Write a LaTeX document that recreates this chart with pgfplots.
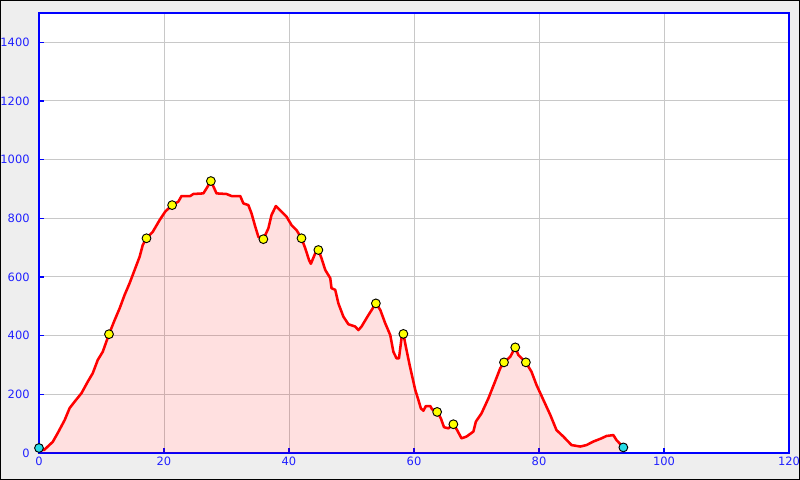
\documentclass[border=0pt]{standalone}
\usepackage{pgfplots}
\pgfplotsset{compat=1.18}
\usepackage{fontspec}
\setmainfont{DejaVu Sans}
\usetikzlibrary{backgrounds}
\definecolor{bgGray}{RGB}{238,238,238}
\definecolor{tickBlue}{RGB}{32,32,255}
\definecolor{gridGray}{RGB}{200,200,200}
\definecolor{mkYellow}{RGB}{255,255,0}
\definecolor{mkCyan}{RGB}{40,220,230}
\pgfplotstableread{
x y
0 17
0.8 10
2.2 38
3.0 68
4.1 112
4.9 153
5.7 175
6.8 204
7.8 243
8.6 272
9.4 317
10.2 345
11.2 405
12.1 453
12.9 493
13.7 539
14.5 579
15.3 624
16.1 669
16.6 709
17.2 732
18.2 754
19.3 794
20.2 823
21.3 845
22.3 857
22.8 876
24.2 876
24.7 883
26.3 885
26.8 902
27.5 927
28.05 902
28.4 885
30.0 883
30.8 876
32.2 876
32.7 851
33.5 845
34.0 817
34.6 772
35.1 737
35.9 729
36.7 766
37.2 811
37.9 842
38.8 823
39.6 806
40.4 777
41.2 760
42.0 732
42.6 698
43.2 658
43.5 645
44.2 681
44.7 692
45.2 664
45.8 624
46.6 596
46.8 562
47.4 556
47.9 510
48.7 465
49.5 439
50.6 431
51.1 419
51.6 431
52.7 470
53.9 510
54.6 488
55.4 442
56.2 402
56.7 345
57.2 323
57.6 323
58.0 391
58.3 406
58.7 362
59.3 300
60.2 215
60.7 181
61.1 152
61.5 144
61.9 160
62.6 160
62.9 149
63.7 140
64.3 118
64.8 88
65.5 84
66.3 98
66.9 78
67.6 50
68.4 56
69.5 73
69.9 107
70.8 135
71.9 186
72.96 243
73.8 289
74.4 309
75.4 328
76.2 360
76.7 334
77.9 309
78.8 277
79.6 232
80.7 181
81.8 130
82.8 78
83.9 56
85.2 27
86.6 22
87.6 27
88.7 39
90.0 50
90.8 58
91.9 61
92.4 44
93.5 19
}\profile
\begin{document}
\begin{tikzpicture}
\begin{axis}[
  width=562.5pt, height=330pt, scale only axis,
  xmin=0, xmax=120, ymin=0, ymax=1500,
  xtick={0,20,...,120}, ytick={0,200,...,1400},
  grid=major, grid style={gridGray, line width=0.75pt},
  axis line style={blue, line width=1pt},
  tick pos=left, tick align=inside,
  major tick length=4pt,
  every tick/.style={blue, line width=1pt},
  tick label style={text=tickBlue, font=\fontsize{8.6}{10}\selectfont},
  /pgf/number format/assume math mode=true,
  /pgf/number format/1000 sep={},
  xticklabel={\pgfmathprintnumber[assume math mode=true,1000 sep={}]{\tick}},
  yticklabel={\pgfmathprintnumber[assume math mode=true,1000 sep={}]{\tick}},
  xticklabel style={yshift=0.5pt},
  yticklabel style={xshift=-3.5pt},
  axis background/.style={fill=white},
  clip=true,
]
\addplot[draw=none, fill=red, fill opacity=0.12] table {\profile} \closedcycle;
\addplot[red, line width=1.9pt, line join=round] table {\profile};
\addplot[only marks, mark=*, mark size=3.3pt, mark options={fill=mkYellow, draw=black, line width=0.7pt}] table {
x y
11.2 405
17.2 732
21.3 845
27.5 927
35.9 729
42.0 732
44.7 692
53.9 510
58.3 406
63.7 140
66.3 98
74.4 309
76.2 360
77.9 309
};
\addplot[only marks, mark=*, mark size=3.3pt, mark options={fill=mkCyan, draw=black, line width=0.7pt}, clip=false] table {
x y
0 17
93.5 19
};
\coordinate (ll) at (rel axis cs:0,0);
\coordinate (ur) at (rel axis cs:1,1);
\end{axis}
\begin{scope}[on background layer]
\draw[black, line width=0.75pt, fill=bgGray] ([xshift=-28.875pt, yshift=-19.875pt]ll) rectangle ([xshift=7.875pt, yshift=9.375pt]ur);
\end{scope}
\pgfresetboundingbox
\path[use as bounding box] ([xshift=-29.25pt, yshift=-20.25pt]ll) rectangle ([xshift=8.25pt, yshift=9.75pt]ur);
\end{tikzpicture}
\end{document}
